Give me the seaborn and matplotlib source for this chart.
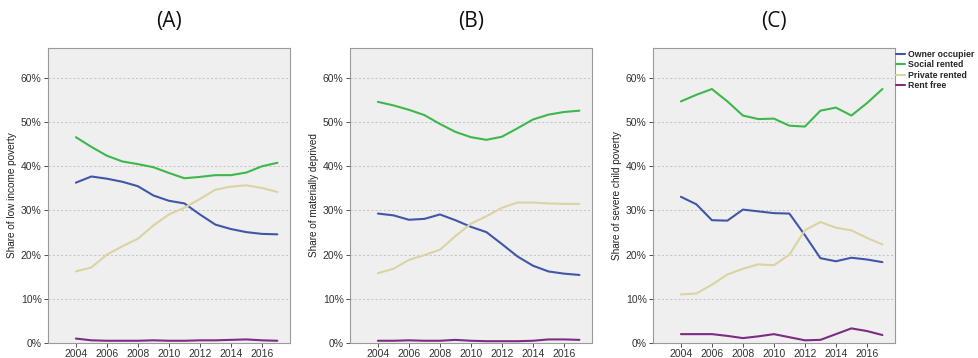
import numpy as np
import pandas as pd
import seaborn as sns
import matplotlib
matplotlib.use("Agg")
import matplotlib.pyplot as plt
from matplotlib.ticker import PercentFormatter

years = list(range(2004, 2018))
tenures = ["Owner occupier", "Social rented", "Private rented", "Rent free"]

# (A) share of low income poverty
a_owner = [36.3, 37.7, 37.2, 36.5, 35.5, 33.4, 32.2, 31.6, 29.1, 26.8, 25.8, 25.1, 24.7, 24.6]
a_social = [46.6, 44.4, 42.4, 41.1, 40.5, 39.8, 38.5, 37.3, 37.6, 38.0, 38.0, 38.6, 40.0, 40.8]
a_private = [16.2, 17.1, 20.0, 21.9, 23.6, 26.6, 29.1, 30.6, 32.6, 34.7, 35.4, 35.7, 35.1, 34.2]
a_free = [1.0, 0.6, 0.5, 0.5, 0.5, 0.6, 0.5, 0.5, 0.6, 0.6, 0.7, 0.8, 0.6, 0.5]

# (B) share of materially deprived
b_owner = [29.3, 28.9, 27.9, 28.1, 29.1, 27.8, 26.3, 25.1, 22.4, 19.6, 17.5, 16.2, 15.7, 15.4]
b_social = [54.6, 53.8, 52.8, 51.6, 49.6, 47.8, 46.6, 46.0, 46.7, 48.6, 50.6, 51.7, 52.3, 52.6]
b_private = [15.8, 16.8, 18.8, 19.9, 21.1, 24.2, 27.0, 28.7, 30.6, 31.8, 31.8, 31.6, 31.5, 31.5]
b_free = [0.5, 0.5, 0.6, 0.5, 0.5, 0.7, 0.5, 0.4, 0.4, 0.4, 0.5, 0.8, 0.8, 0.7]

# (C) share of severe child poverty
c_owner = [33.1, 31.4, 27.8, 27.7, 30.2, 29.8, 29.4, 29.3, 24.4, 19.2, 18.5, 19.3, 18.9, 18.3]
c_social = [54.7, 56.2, 57.5, 54.7, 51.5, 50.7, 50.8, 49.2, 49.0, 52.6, 53.3, 51.5, 54.3, 57.5]
c_private = [11.0, 11.2, 13.2, 15.5, 16.8, 17.8, 17.6, 20.0, 25.5, 27.4, 26.1, 25.5, 23.8, 22.3]
c_free = [2.0, 2.0, 2.0, 1.6, 1.1, 1.5, 2.0, 1.3, 0.6, 0.7, 2.0, 3.3, 2.7, 1.8]

titles = ["(A)", "(B)", "(C)"]
ylabels = ["Share of low income poverty", "Share of materially deprived",
           "Share of severe child poverty"]
panels = [
    [a_owner, a_social, a_private, a_free],
    [b_owner, b_social, b_private, b_free],
    [c_owner, c_social, c_private, c_free],
]
palette = {"Owner occupier": "#3F57A8", "Social rented": "#3DB84B",
           "Private rented": "#D9D4A2", "Rent free": "#7B2D80"}

sns.set_style("white")
plt.rcParams["font.family"] = ["Liberation Sans", "DejaVu Sans"]

fig = plt.figure(figsize=(9.79, 3.58), dpi=100)
lefts = [0.049, 0.3575, 0.667]
for i, series in enumerate(panels):
    ax = fig.add_axes([lefts[i], 0.042, 0.247, 0.824])
    df = pd.DataFrame({
        "Year": years * 4,
        "Share": sum(series, []),
        "Tenure": np.repeat(tenures, len(years)),
    })
    sns.lineplot(data=df, x="Year", y="Share", hue="Tenure", palette=palette,
                 linewidth=1.5, ax=ax, legend=(i == 2))
    ax.set_facecolor("#EFEFEF")
    ax.set_xlim(2002.2, 2017.8)
    ax.set_ylim(0, 66.8)
    ax.set_xticks(range(2004, 2017, 2))
    ax.set_yticks(range(0, 61, 10))
    ax.yaxis.set_major_formatter(PercentFormatter(decimals=0))
    ax.yaxis.grid(True, linestyle=(0, (2.5, 2.5)), color="#BDBDBD", linewidth=0.6)
    ax.set_axisbelow(True)
    ax.set_xlabel("")
    ax.set_ylabel(ylabels[i], fontsize=7.2, color="#222222", labelpad=3)
    ax.tick_params(axis="both", labelsize=7.5, colors="#333333", length=3,
                   width=0.6, direction="out", pad=1.5)
    ax.tick_params(left=True, bottom=True)
    for s in ax.spines.values():
        s.set_color("#9A9A9A")
        s.set_linewidth(0.8)
    fig.text(lefts[i] + 0.247 / 2, 0.94, titles[i], ha="center", va="center",
             fontsize=15, family=["Open Sans", "DejaVu Sans"], color="#111111")
    if i == 2:
        h, l = ax.get_legend_handles_labels()
        ax.get_legend().remove()
        fig.legend(h, l, loc="upper left", bbox_to_anchor=(0.915, 0.86),
                   frameon=False, handlelength=1.1,
                   handletextpad=0.25, labelspacing=0.15, borderaxespad=0,
                   borderpad=0, prop={"size": 6.3, "weight": "bold"})

plt.savefig("out.png", dpi=100)
plt.close()
